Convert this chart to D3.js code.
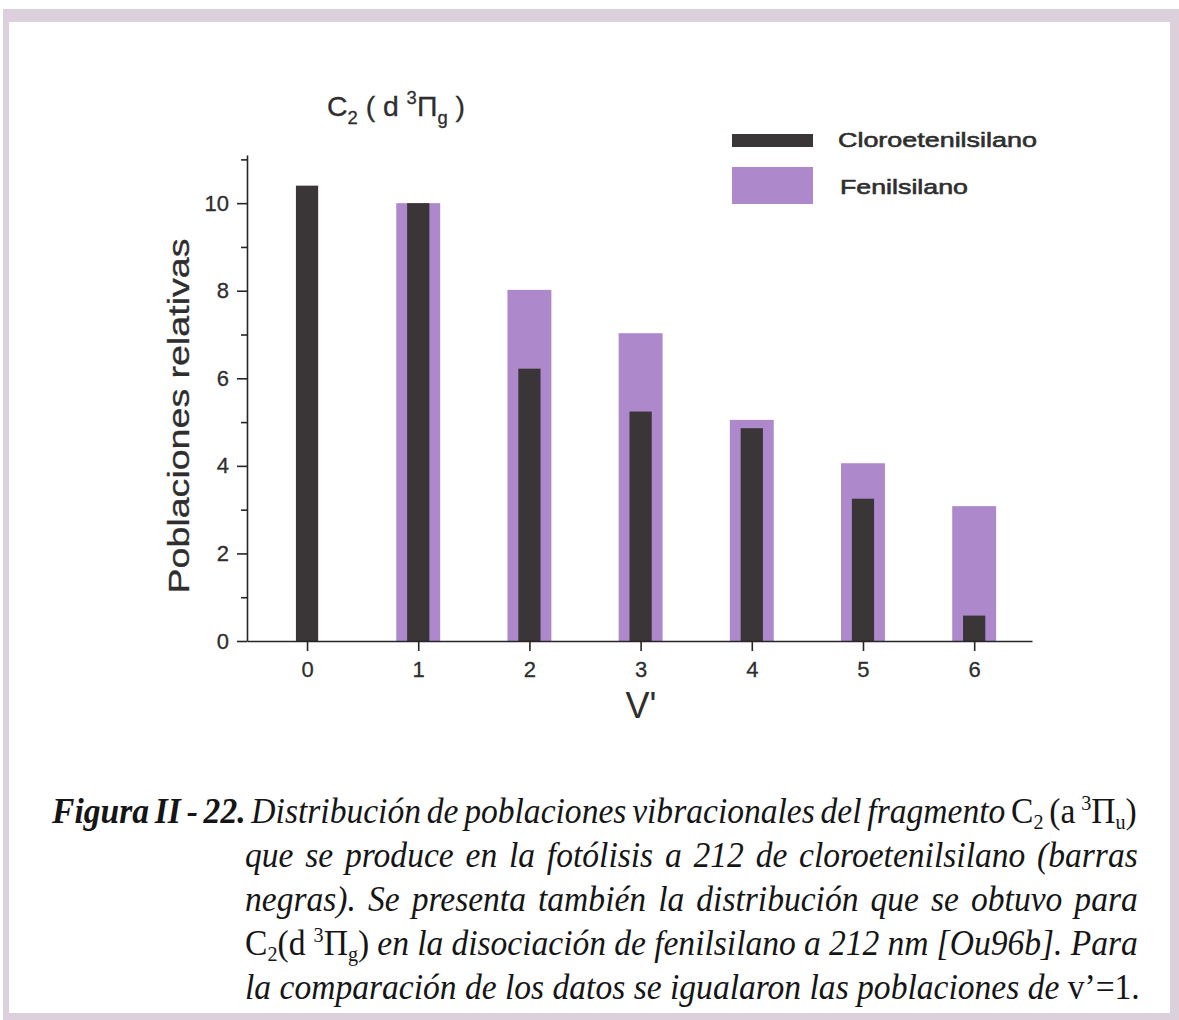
<!DOCTYPE html>
<html><head><meta charset="utf-8">
<script src="https://cdn.jsdelivr.net/npm/d3@7"></script>
<style>html,body{margin:0;padding:0;background:#fff;} svg{display:block}</style>
</head><body><svg id="c" width="1179" height="1020"></svg>
<script>
// ---- data ----
const levels = [0, 1, 2, 3, 4, 5, 6];
const levelLabels = ["0", "1", "2", "3", "4", "5", "6"];
const cloroetenilsilano = [10.4, 10.0, 6.22, 5.24, 4.86, 3.25, 0.58];
const fenilsilano = [null, 10.0, 8.02, 7.03, 5.05, 4.06, 3.08];
const yTicks = [0, 2, 4, 6, 8, 10];
const yMinorTicks = [1, 3, 5, 7, 9, 11];
const seriesNames = ["Cloroetenilsilano", "Fenilsilano"];
const yTitle = "Poblaciones relativas";
const xTitle = "V'";

const cBlack = "#3a3536", cPurple = "#ad89cc", cText = "#2e2e2e", cAxis = "#262626";
const svg = d3.select("#c");

// frame (scanned page border)
const frame = "#ddd0dd";
svg.append("rect").attr("x", 3).attr("y", 9).attr("width", 1176).attr("height", 13).attr("fill", frame);
svg.append("rect").attr("x", 3).attr("y", 9).attr("width", 6).attr("height", 1011).attr("fill", frame);
svg.append("rect").attr("x", 1170).attr("y", 9).attr("width", 9).attr("height", 1011).attr("fill", frame);
svg.append("rect").attr("x", 3).attr("y", 1013).attr("width", 1176).attr("height", 7).attr("fill", frame);

// scales
const x = d3.scaleLinear().domain([-0.54, 6.52]).range([247, 1032]);
const y = d3.scaleLinear().domain([0, 11.1]).range([641, 155]);
const wPurple = 0.395, wBlack = 0.2;

// bars
svg.append("g").selectAll("rect").data(levels.filter((d, i) => fenilsilano[i] != null)).join("rect")
  .attr("x", d => x(d - wPurple / 2)).attr("width", d => x(wPurple) - x(0))
  .attr("y", d => y(fenilsilano[d])).attr("height", d => y(0) - y(fenilsilano[d]))
  .attr("fill", cPurple);
svg.append("g").selectAll("rect").data(levels).join("rect")
  .attr("x", d => x(d - wBlack / 2)).attr("width", d => x(wBlack) - x(0))
  .attr("y", d => y(cloroetenilsilano[d])).attr("height", d => y(0) - y(cloroetenilsilano[d]))
  .attr("fill", cBlack);

// axes
const font = "'Liberation Sans', Arial, sans-serif";
svg.append("g").attr("transform", "translate(247,0)")
  .call(d3.axisLeft(y).tickValues(yTicks).tickSize(10).tickSizeOuter(0).tickPadding(8));
svg.append("g").attr("transform", "translate(247,0)")
  .call(d3.axisLeft(y).tickValues(yMinorTicks).tickSize(6).tickSizeOuter(0).tickFormat(""))
  .select(".domain").remove();
svg.append("g").attr("transform", "translate(0,641)")
  .call(d3.axisBottom(x).tickValues(levels).tickFormat((d, i) => levelLabels[i]).tickSize(10).tickSizeOuter(0).tickPadding(10));
svg.selectAll(".domain, .tick line").attr("stroke", cAxis).attr("stroke-width", 1.6);
svg.selectAll(".tick text").attr("font-family", font).attr("font-size", 22).attr("fill", cText)
  .attr("stroke", cText).attr("stroke-width", 0.3);

// helpers
function rich(parent, segs, size, subK = 0.3, supK = 0.45, smallK = 0.65) {
  const t = parent.append("text").attr("font-size", size);
  let cur = 0;
  segs.forEach(s => {
    const sh = s.sub ? size * subK : s.sup ? -size * supK : 0;
    const ts = t.append("tspan").text(s.t).attr("dy", sh - cur);
    cur = sh;
    if (s.sub || s.sup) ts.attr("font-size", size * smallK);
    if (s.style) ts.attr("font-style", s.style);
    if (s.weight) ts.attr("font-weight", s.weight);
  });
  return t;
}
function fitG(x0, yb, width, build) {
  const g = svg.append("g");
  const t = build(g);
  const w = t.node().getBBox().width;
  g.attr("transform", `translate(${x0},${yb}) scale(${width / w},1)`);
  return t;
}

// title
fitG(327, 116, 138, g => rich(g, [
  {t: "C"}, {t: "2", sub: true}, {t: " ( d "}, {t: "3", sup: true}, {t: "\u03A0"}, {t: "g", sub: true}, {t: " )"}
], 27).attr("font-family", font).attr("fill", cText).attr("stroke", cText).attr("stroke-width", 0.3));

// y title
{
  const g = svg.append("g");
  const t = g.append("text").text(yTitle).attr("font-family", font).attr("font-size", 29)
    .attr("fill", cText).attr("text-anchor", "middle").attr("stroke", cText).attr("stroke-width", 0.3);
  const w = t.node().getBBox().width;
  g.attr("transform", `translate(189,416) rotate(-90) scale(${355 / w},1)`);
}
// x title
svg.append("text").text(xTitle).attr("x", 641).attr("y", 718).attr("text-anchor", "middle")
  .attr("font-family", font).attr("font-size", 36).attr("fill", cText);

// legend
svg.append("rect").attr("x", 732).attr("y", 134).attr("width", 81).attr("height", 13).attr("fill", cBlack);
svg.append("rect").attr("x", 732).attr("y", 167).attr("width", 81).attr("height", 37).attr("fill", cPurple);
fitG(838, 147, 199, g => g.append("text").text(seriesNames[0]).attr("font-family", font).attr("font-size", 21)
  .attr("fill", cText).attr("stroke", cText).attr("stroke-width", 0.6));
fitG(840, 194, 128, g => g.append("text").text(seriesNames[1]).attr("font-family", font).attr("font-size", 21)
  .attr("fill", cText).attr("stroke", cText).attr("stroke-width", 0.6));

// caption
const serif = "'Liberation Serif', 'Times New Roman', serif";
const capSize = 35;
const capLines = [
  {x0: 52, x1: 1138, y: 823, justify: true, segs: [
    {t: "Figura II - 22.", style: "italic", weight: "bold"},
    {t: " Distribución de poblaciones vibracionales del fragmento ", style: "italic"},
    {t: "C"}, {t: "2", sub: true}, {t: " (a "}, {t: "3", sup: true}, {t: "\u03A0"}, {t: "u", sub: true}, {t: ")"}]},
  {x0: 245, x1: 1138, y: 867, justify: true, segs: [
    {t: "que se produce en la fotólisis a 212 de cloroetenilsilano (barras", style: "italic"}]},
  {x0: 245, x1: 1138, y: 911, justify: true, segs: [
    {t: "negras). Se presenta también la distribución que se obtuvo para", style: "italic"}]},
  {x0: 245, x1: 1138, y: 955, justify: true, segs: [
    {t: "C"}, {t: "2", sub: true}, {t: "(d "}, {t: "3", sup: true}, {t: "\u03A0"}, {t: "g", sub: true}, {t: ")"},
    {t: " en la disociación de fenilsilano a 212 nm [Ou96b]. Para", style: "italic"}]},
  {x0: 245, x1: 1140, y: 999, justify: false, segs: [
    {t: "la comparación de los datos se igualaron las poblaciones de ", style: "italic"}, {t: "v’=1."}]}
];
const built = capLines.map(L => {
  const g = svg.append("g");
  const t = rich(g, L.segs, capSize, 0.16, 0.36, 0.6).attr("font-family", serif).attr("fill", "#151515");
  return {L, g, t, w: t.node().getBBox().width, n: (t.text().match(/ /g) || []).length};
});
const last = built[built.length - 1];
const cf = (last.L.x1 - last.L.x0) / last.w;
built.forEach(b => {
  const target = b.L.x1 - b.L.x0;
  if (b.L.justify && b.n > 0) {
    const ws = (target / cf - b.w) / b.n;
    b.t.attr("word-spacing", ws);
    const w2 = b.t.node().getBBox().width;
    b.g.attr("transform", `translate(${b.L.x0},${b.L.y}) scale(${target / w2},1)`);
  } else {
    b.g.attr("transform", `translate(${b.L.x0},${b.L.y}) scale(${cf},1)`);
  }
});
</script></body></html>
